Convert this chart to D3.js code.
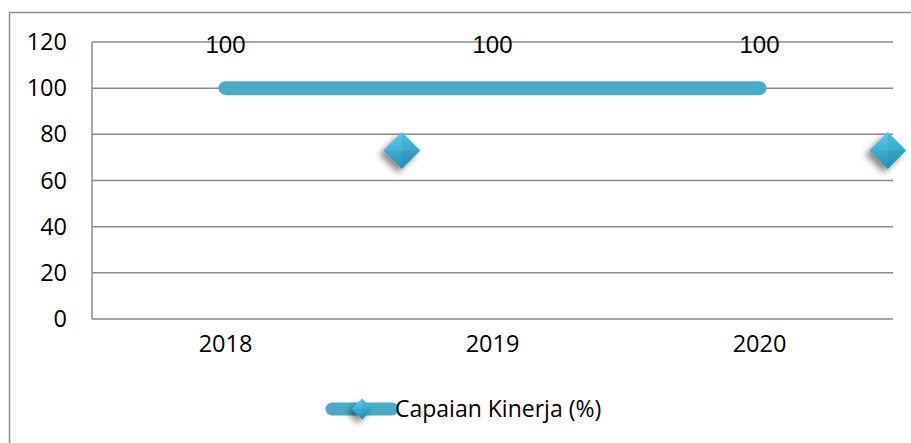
<!DOCTYPE html>
<html><head><meta charset="utf-8">
<script src="https://cdn.jsdelivr.net/npm/d3@7"></script>
<style>html,body{margin:0;padding:0;background:#fff;overflow:hidden}svg{display:block}</style>
</head><body>
<svg id="c" width="911" height="443"></svg>
<script>
const categories = ["2018", "2019", "2020"];
const values = [100, 100, 100];
const dataLabels = ["100", "100", "100"];
// stray diamond markers (position on category index axis, value)
const markerPos = [0.66, 2.48];
const markerVals = [73, 73];
const yTicks = [0, 20, 40, 60, 80, 100, 120];
const seriesName = "Capaian Kinerja (%)";

const svg = d3.select("#c");
const defs = svg.append("defs");
const g1 = defs.append("linearGradient").attr("id","dg").attr("x1",0).attr("y1",0).attr("x2",0).attr("y2",1);
g1.append("stop").attr("offset","0%").attr("stop-color","#5cc9e6");
g1.append("stop").attr("offset","50%").attr("stop-color","#3fb3d6");
g1.append("stop").attr("offset","100%").attr("stop-color","#2a93b5");
const f = defs.append("filter").attr("id","sh").attr("x","-50%").attr("y","-50%").attr("width","200%").attr("height","200%");
f.append("feGaussianBlur").attr("in","SourceAlpha").attr("stdDeviation",3);
f.append("feOffset").attr("dx",-4).attr("dy",4).attr("result","o");
f.append("feComponentTransfer").append("feFuncA").attr("type","linear").attr("slope",0.45);
const m = f.append("feMerge"); m.append("feMergeNode"); m.append("feMergeNode").attr("in","SourceGraphic");

// outer frame
svg.append("rect").attr("x",9.5).attr("y",12.5).attr("width",1000).attr("height",1000)
  .attr("fill","none").attr("stroke","#8c8c8c").attr("stroke-width",1.5);

const L = 92, R = 893, T = 42, B = 319;
const x = d3.scaleBand().domain(categories).range([L, R]);
const xi = d3.scaleLinear().domain([0, categories.length - 1])
  .range([x(categories[0]) + x.bandwidth()/2, x(categories[categories.length-1]) + x.bandwidth()/2]);
const y = d3.scaleLinear().domain([0, 120]).range([B, T]);

// gridlines
svg.append("g").selectAll("line").data(yTicks).join("line")
  .attr("x1", L).attr("x2", R).attr("y1", d => y(d)).attr("y2", d => y(d))
  .attr("stroke", "#8a8a8a").attr("stroke-width", 1.5);
svg.append("line").attr("x1", L).attr("x2", L).attr("y1", T).attr("y2", B)
  .attr("stroke", "#8a8a8a").attr("stroke-width", 1.5);

// y axis labels
const yAxis = d3.axisLeft(y).tickValues(yTicks).tickSize(0).tickPadding(25);
const ya = svg.append("g").attr("transform", `translate(${L},0)`).call(yAxis);
ya.select(".domain").remove();
ya.selectAll("text").attr("font-family","'Open Sans', sans-serif").attr("font-size",23.5).attr("fill","#000");

// x axis labels
const xAxis = d3.axisBottom(x).tickSize(0).tickPadding(16);
const xa = svg.append("g").attr("transform", `translate(0,${B})`).call(xAxis);
xa.select(".domain").remove();
xa.selectAll("text").attr("font-family","'Open Sans', sans-serif").attr("font-size",23.5).attr("fill","#000");

// line
const line = d3.line().x((d,i) => x(categories[i]) + x.bandwidth()/2).y(d => y(d));
svg.append("path").datum(values).attr("d", line).attr("fill","none")
  .attr("stroke","#4aabc6").attr("stroke-width",14).attr("stroke-linecap","round").attr("stroke-linejoin","round");

// data labels
svg.append("g").selectAll("text").data(dataLabels).join("text")
  .attr("x", (d,i) => x(categories[i]) + x.bandwidth()/2)
  .attr("y", (d,i) => y(values[i]) - 35)
  .attr("text-anchor","middle")
  .attr("font-family","'Liberation Sans', Arial, sans-serif").attr("font-size",24).attr("fill","#000")
  .text(d => d);

function diamond(sel, cx, cy, r) {
  const g = sel.append("g").attr("filter","url(#sh)");
  g.append("path").attr("d", `M${cx},${cy-r}L${cx+r},${cy}L${cx},${cy+r}L${cx-r},${cy}Z`).attr("fill","url(#dg)");
  g.append("path").attr("d", `M${cx},${cy-r}L${cx+r},${cy}L${cx},${cy}Z`).attr("fill","#2a8fb0").attr("opacity",0.25);
  g.append("path").attr("d", `M${cx},${cy}L${cx+r},${cy}L${cx},${cy+r}Z`).attr("fill","#1f7d9c").attr("opacity",0.3);
  g.append("path").attr("d", `M${cx},${cy}L${cx-r},${cy}L${cx},${cy+r}Z`).attr("fill","#2a8fb0").attr("opacity",0.15);
}
markerPos.forEach((p, i) => diamond(svg, xi(p), y(markerVals[i]), 18.5));

// legend
const lg = svg.append("g");
lg.append("line").attr("x1",332).attr("x2",392).attr("y1",409).attr("y2",409)
  .attr("stroke","#4aabc6").attr("stroke-width",13).attr("stroke-linecap","round");
diamond(lg, 362, 409, 10.5);
lg.append("text").attr("x",395).attr("y",409).attr("dy","0.35em")
  .attr("font-family","'Open Sans', sans-serif").attr("font-size",23).attr("fill","#000").text(seriesName);
</script>
</body></html>
